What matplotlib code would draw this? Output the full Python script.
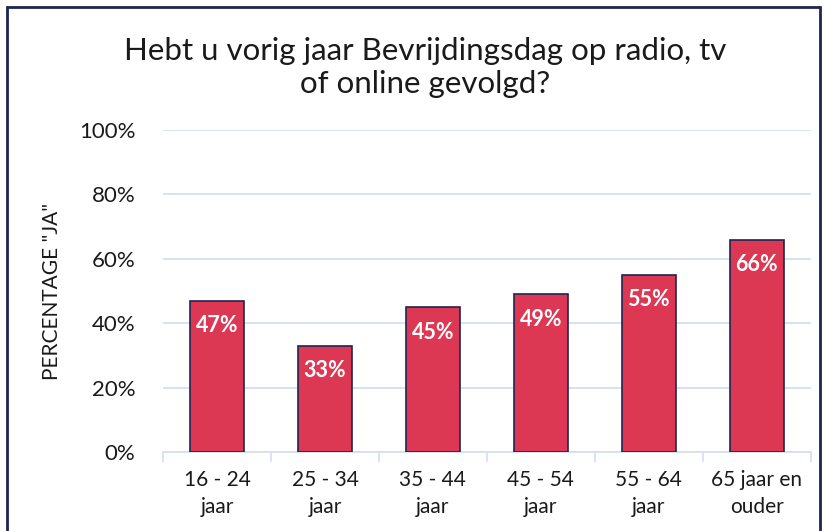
import numpy as np
import matplotlib.pyplot as plt
from matplotlib.patches import Rectangle

plt.rcParams['font.family'] = ['Lato', 'DejaVu Sans']

categories = ['16 - 24\njaar', '25 - 34\njaar', '35 - 44\njaar',
              '45 - 54\njaar', '55 - 64\njaar', '65 jaar en\nouder']
values = [47, 33, 45, 49, 55, 66]
yticks = [0, 20, 40, 60, 80, 100]

bar_color = '#dc3753'
edge_color = '#1f2452'
grid_color = '#d6dff2'

fig = plt.figure(figsize=(8.28, 5.31), dpi=100)
ax = fig.add_axes([0.197, 0.149, 0.782, 0.606])

x = np.arange(len(categories))
ax.bar(x, values, width=0.5, color=bar_color, edgecolor=edge_color, linewidth=1.2, zorder=3)
for xi, v in zip(x, values):
    ax.text(xi, v - 4.5, f'{v}%', ha='center', va='top', color='white',
            fontsize=15.5, fontweight='bold', zorder=4)

ax.set_xlim(-0.5, len(categories) - 0.5)
ax.set_ylim(0, 100)
ax.set_yticks(yticks)
ax.set_yticklabels([f'{t}%' for t in yticks], fontsize=16, color='#1a1a1a')
ax.set_xticks(x)
ax.set_xticklabels(categories, fontsize=15, color='#1a1a1a', linespacing=1.45)
ax.set_xticks(np.arange(-0.5, len(categories)), minor=True)
ax.tick_params(axis='x', which='major', length=0, pad=13)
ax.tick_params(axis='x', which='minor', length=7, width=1.2, color=grid_color)
ax.tick_params(axis='y', length=0, pad=20)

ax.yaxis.grid(True, color=grid_color, linewidth=1.3, zorder=0)
for s in ['top', 'right', 'left']:
    ax.spines[s].set_visible(False)
ax.spines['bottom'].set_color(grid_color)
ax.spines['bottom'].set_linewidth(1.3)

ax.set_ylabel('PERCENTAGE "JA"', fontsize=15, color='#1a1a1a', labelpad=12)

fig.text(0.514, 0.873, 'Hebt u vorig jaar Bevrijdingsdag op radio, tv\nof online gevolgd?',
         ha='center', va='center', fontsize=22.5, color='#1a1a1a', linespacing=1.25)

fig.patches.append(Rectangle((7 / 828, -0.1), (820 - 7) / 828, 0.1 + 524 / 531,
                             transform=fig.transFigure, fill=False,
                             edgecolor=edge_color, linewidth=2))

fig.savefig('out.png', dpi=100)
